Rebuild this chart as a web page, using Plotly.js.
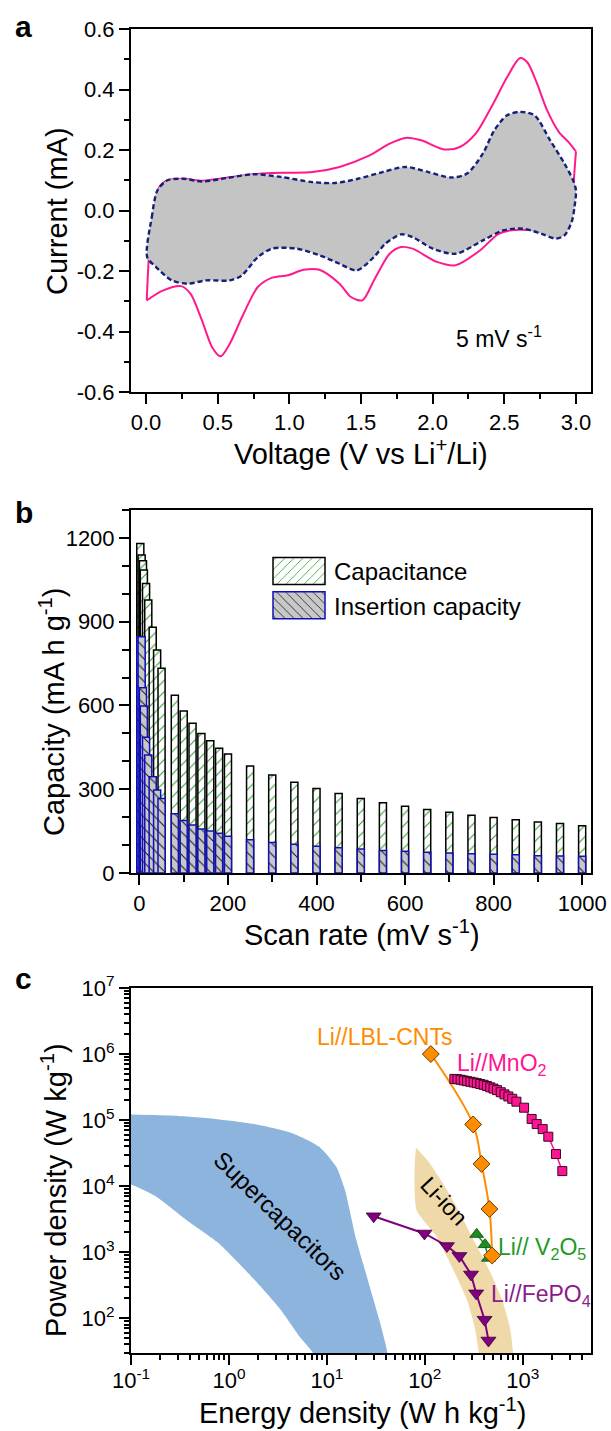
<!DOCTYPE html>
<html>
<head>
<meta charset="utf-8">
<script src="https://cdn.plot.ly/plotly-3.0.1.min.js"></script>
<style>html,body{margin:0;padding:0;background:#fff;}#chart{width:611px;height:1431px;}</style>
</head>
<body>
<div id="chart"></div>
<script>
// ---------- Panel a: cyclic voltammetry at 5 mV/s ----------
const cvTotalUpperV = [0.005, 0.02, 0.05, 0.09, 0.15, 0.26, 0.39, 0.56, 0.75, 0.88, 1.00, 1.16, 1.35, 1.56, 1.70, 1.81, 1.92, 2.08, 2.19, 2.30, 2.41, 2.52, 2.61, 2.66, 2.72, 2.80, 2.88, 2.95, 3.0];
const cvTotalUpperI = [-0.297, -0.154, -0.02, 0.075, 0.10, 0.105, 0.098, 0.108, 0.12, 0.124, 0.125, 0.127, 0.144, 0.182, 0.221, 0.240, 0.232, 0.202, 0.210, 0.254, 0.342, 0.441, 0.504, 0.49, 0.43, 0.33, 0.26, 0.225, 0.195];
const cvTotalLowerV = [3.0, 2.985, 2.97, 2.93, 2.85, 2.70, 2.55, 2.46, 2.33, 2.16, 2.03, 1.86, 1.78, 1.70, 1.59, 1.51, 1.43, 1.35, 1.21, 1.10, 0.99, 0.88, 0.78, 0.67, 0.585, 0.52, 0.46, 0.39, 0.31, 0.245, 0.12, 0.005];
const cvTotalLowerI = [0.195, 0.10, 0.0, -0.05, -0.07, -0.065, -0.065, -0.077, -0.132, -0.181, -0.170, -0.126, -0.121, -0.143, -0.231, -0.297, -0.286, -0.242, -0.196, -0.196, -0.214, -0.222, -0.253, -0.352, -0.440, -0.482, -0.451, -0.363, -0.275, -0.25, -0.264, -0.297];
const cvCapV = [0.008, 0.04, 0.08, 0.15, 0.26, 0.39, 0.56, 0.75, 0.94, 1.16, 1.32, 1.48, 1.65, 1.81, 1.97, 2.13, 2.24, 2.35, 2.43, 2.52, 2.61, 2.71, 2.82, 2.92, 2.98, 3.0, 2.99, 2.97, 2.92, 2.86, 2.76, 2.63, 2.49, 2.35, 2.16, 2.0, 1.86, 1.78, 1.67, 1.59, 1.47, 1.35, 1.21, 1.05, 0.88, 0.78, 0.67, 0.585, 0.42, 0.29, 0.18, 0.07, 0.008];
const cvCapI = [-0.154, -0.022, 0.067, 0.10, 0.105, 0.096, 0.107, 0.12, 0.111, 0.094, 0.091, 0.105, 0.127, 0.144, 0.127, 0.109, 0.122, 0.188, 0.265, 0.315, 0.326, 0.315, 0.232, 0.155, 0.10, 0.067, 0.012, -0.038, -0.082, -0.093, -0.077, -0.06, -0.066, -0.099, -0.143, -0.126, -0.088, -0.079, -0.11, -0.154, -0.198, -0.176, -0.148, -0.126, -0.126, -0.154, -0.214, -0.231, -0.231, -0.242, -0.231, -0.187, -0.154];
const voltTickVals = [0, 0.5, 1.0, 1.5, 2.0, 2.5, 3.0];
const voltTickText = ['0.0', '0.5', '1.0', '1.5', '2.0', '2.5', '3.0'];
const currTickVals = [-0.6, -0.4, -0.2, 0, 0.2, 0.4, 0.6];
const currTickText = ['-0.6', '-0.4', '-0.2', '0.0', '0.2', '0.4', '0.6'];

// ---------- Panel b: capacity vs scan rate ----------
const scanRates = [2, 5, 8, 10, 15, 20, 30, 40, 50, 80, 100, 120, 140, 160, 180, 200, 250, 300, 350, 400, 450, 500, 550, 600, 650, 700, 750, 800, 850, 900, 950, 1000];
const totalCapacity = [1180, 1139, 1118, 1085, 1037, 978, 880, 799, 733, 637, 580, 536, 500, 474, 447, 426, 383, 351, 325, 303, 285, 267, 252, 239, 227, 218, 207, 199, 191, 183, 177, 169];
const insertionCapacity = [846, 846, 663, 598, 486, 423, 345, 297, 267, 212, 188, 172, 158, 150, 142, 132, 119, 109, 103, 96, 90, 86, 81, 78, 74, 72, 69, 67, 65, 62, 61, 60];

// ---------- Panel c: Ragone plot ----------
const supercapEnergy = [0.1, 0.279, 0.764, 1.91, 4.36, 8.3, 12.5, 15.4, 17.2, 19.8, 23.8, 29.3, 35.2, 41.5, 41.5, 7.6, 7.2, 5.2, 3.3, 1.75, 0.76, 0.367, 0.177, 0.1];
const supercapPower = [1.21e5, 1.16e5, 1.03e5, 8.6e4, 6.4e4, 3.97e4, 1.94e4, 8.4e3, 4.1e3, 1.6e3, 617, 211, 81.6, 29.7, 20, 20, 29.7, 53.8, 140, 407, 1.42e3, 3.08e3, 7.07e3, 1.07e4];
const liionEnergy = [82, 82, 129, 187, 269, 323, 355, 355, 795, 795, 738, 614, 467, 323, 224, 155, 107, 89, 82];
const liionPower = [3.73e4, 4.4e3, 1.8e3, 617, 188, 72, 29.7, 20, 20, 29.7, 72, 188, 486, 1.42e3, 4.1e3, 1.07e4, 2.45e4, 3.3e4, 3.73e4];
const lblEnergy = [115, 311, 379, 456, 486];
const lblPower = [1.0e6, 8.6e4, 2.17e4, 4.5e3, 890];
const mno2Energy = [200, 215, 232, 250, 270, 292, 315, 340, 368, 398, 430, 465, 502, 545, 595, 650, 712, 780, 860, 1030, 1230, 1385, 1595, 1820, 2180, 2530];
const mno2Power = [4.2e5, 4.15e5, 4.08e5, 3.98e5, 3.88e5, 3.8e5, 3.71e5, 3.62e5, 3.52e5, 3.42e5, 3.28e5, 3.13e5, 3.0e5, 2.84e5, 2.64e5, 2.45e5, 2.28e5, 2.1e5, 1.9e5, 1.54e5, 1.04e5, 8.7e4, 7.3e4, 5.6e4, 3.06e4, 1.69e4];
const v2o5Energy = [338, 411, 445];
const v2o5Power = [1.86e3, 1.3e3, 810];
const fepo4Energy = [30, 99, 168, 225, 296, 334, 407, 446];
const fepo4Power = [3.5e3, 1.92e3, 1.24e3, 878, 460, 238, 95, 46];
const energyTickVals = [0.1, 1, 10, 100, 1000];
const energyTickText = ['10<sup>-1</sup>', '10<sup>0</sup>', '10<sup>1</sup>', '10<sup>2</sup>', '10<sup>3</sup>'];
const powerTickVals = [1e2, 1e3, 1e4, 1e5, 1e6, 1e7];
const powerTickText = ['10<sup>2</sup>', '10<sup>3</sup>', '10<sup>4</sup>', '10<sup>5</sup>', '10<sup>6</sup>', '10<sup>7</sup>'];

// ---------- helpers for layout positions (pixels -> paper) ----------
const W = 611, H = 1431;
const px = v => v / W;
const py = v => 1 - v / H;
const FONT = 'Arial, "Liberation Sans", sans-serif';

const traces = [
  // panel a
  {x: cvTotalUpperV, y: cvTotalUpperI, xaxis: 'x', yaxis: 'y', mode: 'lines', showlegend: false,
   line: {color: '#ff1a8c', width: 2, shape: 'spline', smoothing: 0.8}},
  {x: cvTotalLowerV, y: cvTotalLowerI, xaxis: 'x', yaxis: 'y', mode: 'lines', showlegend: false,
   line: {color: '#ff1a8c', width: 2, shape: 'spline', smoothing: 0.8}},
  {x: cvCapV, y: cvCapI, xaxis: 'x', yaxis: 'y', mode: 'lines', fill: 'toself', fillcolor: '#c4c4c4', showlegend: false,
   line: {color: '#14207a', width: 2.4, dash: '5px,3px', shape: 'spline', smoothing: 0.8}},
  // panel b
  {type: 'bar', name: 'Capacitance', x: scanRates, y: totalCapacity, xaxis: 'x2', yaxis: 'y2', width: 16,
   marker: {color: 'white', line: {color: 'black', width: 1.5},
            pattern: {shape: '/', bgcolor: 'white', fgcolor: '#1e9a1e', size: 8, solidity: 0.12}}},
  {type: 'bar', name: 'Insertion capacity', x: scanRates, y: insertionCapacity, xaxis: 'x2', yaxis: 'y2', width: 16,
   marker: {color: '#c8c8c8', line: {color: '#1010b8', width: 1.5},
            pattern: {shape: '\\', bgcolor: '#c8c8c8', fgcolor: '#111111', size: 8, solidity: 0.12}}},
  // panel c
  {x: supercapEnergy, y: supercapPower, xaxis: 'x3', yaxis: 'y3', mode: 'lines', fill: 'toself', fillcolor: '#8db4dc',
   line: {width: 0, color: 'rgba(0,0,0,0)', shape: 'spline', smoothing: 0.6}, showlegend: false, hoverinfo: 'skip'},
  {x: liionEnergy, y: liionPower, xaxis: 'x3', yaxis: 'y3', mode: 'lines', fill: 'toself', fillcolor: '#f0d9a8',
   line: {width: 0, color: 'rgba(0,0,0,0)', shape: 'spline', smoothing: 0.6}, showlegend: false, hoverinfo: 'skip'},
  {x: v2o5Energy, y: v2o5Power, xaxis: 'x3', yaxis: 'y3', mode: 'lines+markers', showlegend: false,
   line: {color: '#1f8c1f', width: 1.5},
   marker: {symbol: 'triangle-up', size: 12, color: '#1f8c1f', line: {color: '#0c4a0c', width: 0.8}}},
  {x: lblEnergy, y: lblPower, xaxis: 'x3', yaxis: 'y3', mode: 'lines+markers', showlegend: false,
   line: {color: '#ff8c00', width: 2, shape: 'spline'},
   marker: {symbol: 'diamond', size: 13, color: '#ff8c00', line: {color: '#6b3a00', width: 1}}},
  {x: mno2Energy, y: mno2Power, xaxis: 'x3', yaxis: 'y3', mode: 'lines+markers', showlegend: false,
   line: {color: '#ff1493', width: 1.5},
   marker: {symbol: 'square', size: 9, color: '#ff1493', line: {color: '#3a0820', width: 1}}},
  {x: fepo4Energy, y: fepo4Power, xaxis: 'x3', yaxis: 'y3', mode: 'lines+markers', showlegend: false,
   line: {color: '#800080', width: 2},
   marker: {symbol: 'triangle-down', size: 13, color: '#800080', line: {color: '#3a003a', width: 0.8}}}
];

const axisBase = {
  showline: true, linewidth: 2, linecolor: 'black', mirror: true,
  ticks: 'outside', ticklen: 10, tickwidth: 2, tickcolor: 'black',
  showgrid: false, zeroline: false, fixedrange: true,
  tickfont: {family: FONT, size: 22, color: 'black'}
};
const minorBase = {ticks: 'outside', ticklen: 5, tickwidth: 2, tickcolor: 'black', showgrid: false};
const xDom = [px(131), px(591)];

const layout = {
  width: W, height: H,
  margin: {l: 0, r: 0, t: 0, b: 0},
  paper_bgcolor: 'white', plot_bgcolor: 'white',
  font: {family: FONT, color: 'black'},
  barmode: 'overlay',
  showlegend: true,
  legend: {x: px(264), y: py(549), xanchor: 'left', yanchor: 'top', bgcolor: 'rgba(0,0,0,0)',
           font: {family: FONT, size: 24, color: 'black'}, itemwidth: 60, tracegroupgap: 0, traceorder: 'normal'},
  xaxis: Object.assign({}, axisBase, {domain: xDom, anchor: 'y', range: [-0.105, 3.105],
    tickmode: 'array', tickvals: voltTickVals, ticktext: voltTickText,
    minor: Object.assign({}, minorBase, {tick0: 0, dtick: 0.25})}),
  yaxis: Object.assign({}, axisBase, {domain: [py(392), py(29)], anchor: 'x', range: [-0.6, 0.6],
    tickmode: 'array', tickvals: currTickVals, ticktext: currTickText,
    minor: Object.assign({}, minorBase, {tick0: 0, dtick: 0.1})}),
  xaxis2: Object.assign({}, axisBase, {domain: xDom, anchor: 'y2', range: [-19, 1020],
    tick0: 0, dtick: 200, minor: Object.assign({}, minorBase, {tick0: 0, dtick: 100, ticklen: 7})}),
  yaxis2: Object.assign({}, axisBase, {domain: [py(873), py(510)], anchor: 'x2', range: [0, 1300],
    tick0: 0, dtick: 300, minor: Object.assign({}, minorBase, {tick0: 0, dtick: 100, ticklen: 7})}),
  xaxis3: Object.assign({}, axisBase, {domain: xDom, anchor: 'y3', type: 'log', range: [-1, 3.696],
    tickmode: 'array', tickvals: energyTickVals, ticktext: energyTickText, ticklabelstandoff: -3,
    minor: Object.assign({}, minorBase, {dtick: 'D1'})}),
  yaxis3: Object.assign({}, axisBase, {domain: [py(1353), py(988)], anchor: 'x3', type: 'log', range: [1.473, 7],
    tickmode: 'array', tickvals: powerTickVals, ticktext: powerTickText,
    minor: Object.assign({}, minorBase, {dtick: 'D1'})}),
  annotations: [
    // panel letters
    {text: '<b>a</b>', x: px(23), y: py(27), font: {size: 30}},
    {text: '<b>b</b>', x: px(24), y: py(512), font: {size: 30}},
    {text: '<b>c</b>', x: px(23), y: py(978), font: {size: 30}},
    // axis titles
    {text: 'Voltage (V vs Li<sup>+</sup>/Li)', x: px(361), y: py(452), font: {size: 29}},
    {text: 'Current (mA)', x: px(57), y: py(211), textangle: -90, font: {size: 29}},
    {text: 'Scan rate (mV s<sup>-1</sup>)', x: px(362), y: py(933), font: {size: 29}},
    {text: 'Capacity (mA h g<sup>-1</sup>)', x: px(52), y: py(712), textangle: -90, font: {size: 29}},
    {text: 'Energy density (W h kg<sup>-1</sup>)', x: px(363), y: py(1411), font: {size: 29}},
    {text: 'Power density (W kg<sup>-1</sup>)', x: px(54), y: py(1190), textangle: -90, font: {size: 29}},
    // in-plot labels
    {text: '5 mV s<sup>-1</sup>', x: px(499), y: py(337), font: {size: 23}},
    {text: 'Li//LBL-CNTs', x: px(384), y: py(1037), font: {size: 23, color: '#ff8c00'}},
    {text: 'Li//MnO<sub>2</sub>', x: px(455), y: py(1064), xanchor: 'left', font: {size: 23, color: '#ff1493'}},
    {text: 'Li// V<sub>2</sub>O<sub>5</sub>', x: px(496), y: py(1248), xanchor: 'left', font: {size: 23, color: '#1f9a1f'}},
    {text: 'Li//FePO<sub>4</sub>', x: px(489), y: py(1295), xanchor: 'left', font: {size: 23, color: '#8b1a8b'}},
    {text: 'Supercapacitors', x: px(280), y: py(1215), textangle: 44, font: {size: 24}},
    {text: 'Li-ion', x: px(444), y: py(1201), textangle: 47, font: {size: 23}}
  ].map(a => Object.assign({xref: 'paper', yref: 'paper', showarrow: false, xanchor: 'center', yanchor: 'middle'}, a,
                           {font: Object.assign({family: FONT, color: 'black'}, a.font)}))
};

Plotly.newPlot('chart', traces, layout, {staticPlot: true, displayModeBar: false}).then(gd => {
  // enlarge legend swatches to match the reference's wide hatched boxes
  gd.querySelectorAll('.legend .legendpoints path').forEach(p => {
    p.setAttribute('d', 'M26,13.5H-26V-13.5H26Z');
  });
});
</script>
</body>
</html>
